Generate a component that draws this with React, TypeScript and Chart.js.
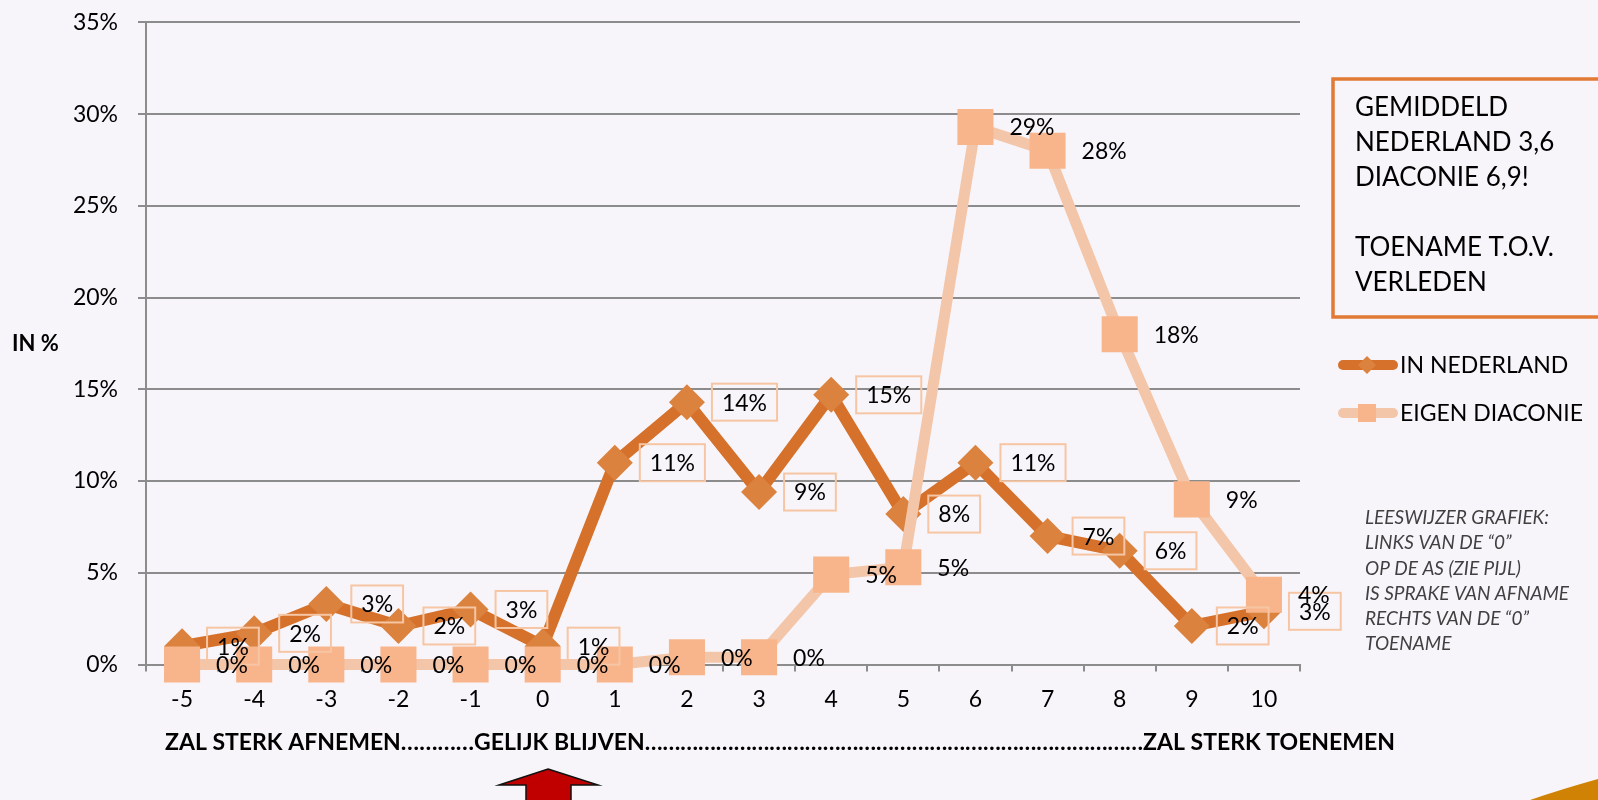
import React, { useEffect, useRef } from 'react';
import { Chart, registerables } from 'chart.js';

Chart.register(...registerables);

// ---------- data ----------
const categories = ['-5', '-4', '-3', '-2', '-1', '0', '1', '2', '3', '4', '5', '6', '7', '8', '9', '10'];
const inNederland = [1.0, 1.7, 3.3, 2.1, 3.0, 1.0, 11.0, 14.3, 9.4, 14.7, 8.2, 11.0, 7.0, 6.2, 2.1, 2.9];
const eigenDiaconie = [0, 0, 0, 0, 0, 0, 0, 0.4, 0.4, 4.9, 5.3, 29.3, 28.0, 18.0, 9.0, 3.8];
const seriesNames = ['IN NEDERLAND', 'EIGEN DIACONIE'];
const yMax = 35;
const yStep = 5;
const axisTitle = 'IN %';
const scaleWords = ['ZAL STERK AFNEMEN', 'GELIJK BLIJVEN', 'ZAL STERK TOENEMEN'];
const noteLines = ['GEMIDDELD', 'NEDERLAND 3,6', 'DIACONIE 6,9!', '', 'TOENAME T.O.V.', 'VERLEDEN'];
const guideLines = [
  'LEESWIJZER GRAFIEK:',
  'LINKS VAN DE \u201C0\u201D',
  'OP DE AS (ZIE PIJL)',
  'IS SPRAKE VAN AFNAME',
  'RECHTS VAN DE \u201C0\u201D',
  'TOENAME',
];

// ---------- styles ----------
const BG = '#F8F5FA';
const DARK_LINE = '#D5712A';
const DARK_MARK = '#DB823E';
const LIGHT_LINE = '#F3C6A9';
const LIGHT_MARK = '#F8B48B';
const GRID = '#8C8C8C';
const FONT = 'Lato';

const decorPlugin = {
  id: 'decor',
  beforeDraw(chart: any) {
    const ctx = chart.ctx;
    ctx.save();
    ctx.fillStyle = BG;
    ctx.fillRect(0, 0, chart.width, chart.height);
    ctx.restore();
  },
  afterDatasetsDraw(chart: any) {
    const ctx = chart.ctx;
    ctx.save();
    ctx.font = `23px ${FONT}`;
    ctx.textBaseline = 'middle';
    ctx.textAlign = 'left';
    // IN NEDERLAND labels in boxes
    const m0 = chart.getDatasetMeta(0);
    m0.data.forEach((pt: any, i: number) => {
      const text = Math.round(inNederland[i]) + '%';
      const w = ctx.measureText(text).width;
      const bx = pt.x + 25;
      const bw = w + 20;
      const bh = 37;
      ctx.strokeStyle = '#F6C6A4';
      ctx.lineWidth = 2;
      ctx.strokeRect(bx, pt.y - bh / 2, bw, bh);
      ctx.fillStyle = '#000';
      ctx.fillText(text, bx + 10, pt.y + 1);
    });
    // EIGEN DIACONIE labels
    const m1 = chart.getDatasetMeta(1);
    m1.data.forEach((pt: any, i: number) => {
      const text = Math.round(eigenDiaconie[i]) + '%';
      ctx.fillStyle = '#000';
      ctx.fillText(text, pt.x + 34, pt.y + 1);
    });
    ctx.restore();
  },
  afterDraw(chart: any) {
    const ctx = chart.ctx;
    ctx.save();
    // y axis title
    ctx.fillStyle = '#000';
    ctx.font = `bold 22px ${FONT}`;
    ctx.textBaseline = 'middle';
    ctx.textAlign = 'left';
    ctx.fillText(axisTitle, 12, 344);

    // bottom scale words with dots
    ctx.font = `bold 23px ${FONT}`;
    const yB = 743;
    const x1 = 165;
    const x2 = 474;
    const x3end = 1395;
    ctx.fillText(scaleWords[0], x1, yB);
    const w1 = ctx.measureText(scaleWords[0]).width;
    ctx.fillText(scaleWords[1], x2, yB);
    const w2 = ctx.measureText(scaleWords[1]).width;
    const w3 = ctx.measureText(scaleWords[2]).width;
    const x3 = x3end - w3;
    ctx.fillText(scaleWords[2], x3, yB);
    const dotW = ctx.measureText('\u2026').width;
    const fillDots = (a: number, b: number) => {
      const n = Math.max(0, Math.round((b - a) / dotW));
      const s = '\u2026'.repeat(n);
      const sw = ctx.measureText(s).width;
      ctx.save();
      ctx.translate(a, 0);
      ctx.scale((b - a) / sw, 1);
      ctx.fillText(s, 0, yB);
      ctx.restore();
    };
    fillDots(x1 + w1, x2);
    fillDots(x2 + w2, x3);

    // red arrow
    ctx.beginPath();
    ctx.moveTo(548, 769);
    ctx.lineTo(598, 785);
    ctx.lineTo(571, 785);
    ctx.lineTo(571, 805);
    ctx.lineTo(526, 805);
    ctx.lineTo(526, 785);
    ctx.lineTo(499, 785);
    ctx.closePath();
    ctx.fillStyle = '#C00000';
    ctx.fill();
    ctx.strokeStyle = '#111';
    ctx.lineWidth = 1.5;
    ctx.stroke();

    // corner wedge
    ctx.beginPath();
    ctx.moveTo(1530, 800);
    ctx.quadraticCurveTo(1562, 789, 1598, 779);
    ctx.lineTo(1598, 800);
    ctx.closePath();
    ctx.fillStyle = '#D08204';
    ctx.fill();

    // note box
    ctx.strokeStyle = '#E07A35';
    ctx.lineWidth = 3.5;
    ctx.strokeRect(1333, 79, 300, 238);
    ctx.fillStyle = '#000';
    ctx.font = `26px ${FONT}`;
    noteLines.forEach((t, i) => {
      ctx.fillText(t, 1355, 108 + i * 35);
    });

    // legend
    const legendY = [365, 413];
    const lineCols = [DARK_LINE, LIGHT_LINE];
    const markCols = [DARK_MARK, LIGHT_MARK];
    legendY.forEach((y, i) => {
      ctx.beginPath();
      ctx.moveTo(1343, y);
      ctx.lineTo(1393, y);
      ctx.strokeStyle = lineCols[i];
      ctx.lineWidth = 10;
      ctx.lineCap = 'round';
      ctx.stroke();
      ctx.fillStyle = markCols[i];
      if (i === 0) {
        ctx.beginPath();
        ctx.moveTo(1367 - 9, y);
        ctx.lineTo(1367, y - 9);
        ctx.lineTo(1367 + 9, y);
        ctx.lineTo(1367, y + 9);
        ctx.closePath();
        ctx.fill();
      } else {
        ctx.fillRect(1367 - 9, y - 9, 18, 18);
      }
      ctx.fillStyle = '#000';
      ctx.font = `23px ${FONT}`;
      ctx.fillText(seriesNames[i], 1400, y + 1);
    });

    // reading guide
    ctx.fillStyle = '#404040';
    ctx.font = `italic 19px ${FONT}`;
    guideLines.forEach((t, i) => {
      ctx.fillText(t, 1365, 518 + i * 25.2);
    });
    ctx.restore();
  },
};

export default function App() {
  const ref = useRef<HTMLCanvasElement | null>(null);
  useEffect(() => {
    if (!ref.current) return;
    const chart = new Chart(ref.current, {
      type: 'line',
      data: {
        labels: categories,
        datasets: [
          {
            label: seriesNames[0],
            data: inNederland,
            borderColor: DARK_LINE,
            borderWidth: 12,
            borderJoinStyle: 'round',
            pointStyle: 'rectRot',
            pointRadius: 18,
            pointBackgroundColor: DARK_MARK,
            pointBorderWidth: 0,
            tension: 0,
            clip: false,
            order: 1,
          },
          {
            label: seriesNames[1],
            data: eigenDiaconie,
            borderColor: LIGHT_LINE,
            borderWidth: 11,
            borderJoinStyle: 'round',
            pointStyle: 'rect',
            pointRadius: 25.5,
            pointBackgroundColor: LIGHT_MARK,
            pointBorderWidth: 0,
            tension: 0,
            clip: false,
            order: 0,
          },
        ],
      },
      options: {
        responsive: false,
        animation: false,
        devicePixelRatio: 1,
        layout: { autoPadding: false, padding: { left: 0, right: 298, top: 22.4, bottom: 0 } },
        plugins: {
          legend: { display: false },
          tooltip: { enabled: false },
        },
        scales: {
          x: {
            offset: true,
            afterFit: (s: any) => {
              s.height = 135.5;
            },
            grid: {
              display: true,
              drawOnChartArea: false,
              offset: true,
              color: GRID,
              lineWidth: 2,
              tickLength: 7,
            },
            border: { color: GRID, width: 2 },
            ticks: {
              color: '#000',
              font: { family: FONT, size: 23 },
              padding: 14,
              maxRotation: 0,
              autoSkip: false,
            },
          },
          y: {
            min: 0,
            max: yMax,
            afterFit: (s: any) => {
              s.width = 146;
            },
            grid: { color: GRID, lineWidth: 2, tickLength: 8 },
            border: { color: GRID, width: 2 },
            ticks: {
              stepSize: yStep,
              color: '#000',
              font: { family: FONT, size: 23, lineHeight: 0.2 },
              padding: 20,
              callback: (v: any) => v + '%',
            },
          },
        },
      },
      plugins: [decorPlugin],
    } as any);
    return () => chart.destroy();
  }, []);
  return (
    <div style={{ position: 'fixed', left: 0, top: 0, width: 1598, height: 800, background: BG }}>
      <canvas ref={ref} width={1598} height={800} style={{ width: 1598, height: 800, display: 'block' }} />
    </div>
  );
}
